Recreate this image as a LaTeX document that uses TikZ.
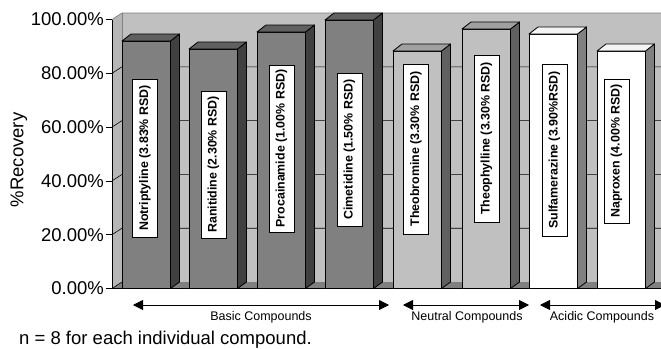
\documentclass[tikz,border=0pt]{standalone}
\usepackage{fontspec}
\setmainfont{Liberation Sans}
\usetikzlibrary{arrows.meta}
\definecolor{wallc}{HTML}{C0C0C0}
\definecolor{floorc}{HTML}{808080}
\definecolor{bfront}{HTML}{808080}
\definecolor{bside}{HTML}{404040}
\definecolor{btop}{HTML}{606060}
\definecolor{nfront}{HTML}{C0C0C0}
\definecolor{nside}{HTML}{606060}
\definecolor{ntop}{HTML}{A0A0A0}
\definecolor{afront}{HTML}{FFFFFF}
\definecolor{aside}{HTML}{808080}
\definecolor{atop}{HTML}{F4F4F4}
\tikzset{
  big/.style={font=\fontsize{18.5}{20}\selectfont, inner sep=0pt},
  small/.style={font=\fontsize{12.5}{14}\selectfont, inner sep=0pt},
  labbox/.style={draw=black, line width=0.7pt, fill=white, rotate=90, inner sep=0pt,
     minimum height=25pt, font=\fontsize{12.4}{14}\selectfont\bfseries},
  barline/.style={draw=black, line width=0.8pt, line join=round},
  grid/.style={draw=black, line width=0.6pt},
  arr/.style={line width=0.8pt, {Triangle[length=10pt,width=10pt]}-{Triangle[length=10pt,width=10pt]}}
}
\begin{document}
\begin{tikzpicture}[x=1pt,y=-1pt]
\useasboundingbox (0,0) rectangle (661,348);
% walls and floor
\fill[wallc] (122,13) rectangle (661,282);
\fill[wallc!95!black] (112,19.5) -- (122,13) -- (122,282) -- (112,288.5) -- cycle;
\fill[floorc] (112,288.5) -- (122,282) -- (661,282) -- (661,288.5) -- cycle;
\draw[gray, line width=0.7pt] (112,19.5) -- (122,13) -- (661,13);
\draw[gray, line width=0.7pt] (122,13) -- (122,282);
% gridlines and ticks
\foreach \v/\t in {0/0.00,20/20.00,40/40.00,60/60.00,80/80.00,100/100.00}{
  \pgfmathsetmacro\yy{288.5-2.69*\v}
  \draw[grid] (106,\yy) -- (112,\yy);
  \node[big, anchor=east] (tick\v) at (104,\yy) {\t\%};
}
\foreach \v in {20,40,60,80}{
  \pgfmathsetmacro\yy{288.5-2.69*\v}
  \draw[grid] (112,\yy) -- (122,\yy-6.5) -- (661,\yy-6.5);
}
\draw[grid] (112,288.5) -- (122,282);
% axes
\draw[black, line width=0.8pt] (112,19.5) -- (112,288.5) -- (661,288.5);
\node[big, rotate=90] (ytitle) at (19,160) {\%Recovery};
% bars
\foreach \xa/\tp/\cx/\la/\lb/\fc/\sc/\tc/\txt in {
  122/41/145/79/237/bfront/bside/btop/Notriptyline (3.83\% RSD),
  189/49/213.5/91/238/bfront/bside/btop/Ranitidine (2.30\% RSD),
  257/32/281.5/65/232/bfront/bside/btop/Procainamide (1.00\% RSD),
  325/20/349.5/73/226/bfront/bside/btop/Cimetidine (1.50\% RSD),
  393/51/416/64/234/nfront/nside/ntop/Theobromine (3.30\% RSD),
  462/29/486.5/55/222/nfront/nside/ntop/Theophylline (3.30\% RSD),
  529/34/554.5/64/236/afront/aside/atop/Sulfamerazine (3.90\%RSD),
  597/51/616.5/79/223/afront/aside/atop/Naproxen (4.00\% RSD)}{
  \pgfmathsetmacro\xb{\xa+48.5}
  \pgfmathsetmacro\lw{\lb-\la}
  \pgfmathsetmacro\lc{(\la+\lb)/2}
  \filldraw[barline, fill=\fc] (\xa,\tp) rectangle (\xb,288.5);
  \filldraw[barline, fill=\sc] (\xb,\tp) -- (\xb+9,\tp-7) -- (\xb+9,282) -- (\xb,288.5) -- cycle;
  \filldraw[barline, fill=\tc] (\xa,\tp) -- (\xa+9,\tp-7) -- (\xb+9,\tp-7) -- (\xb,\tp) -- cycle;
  \node[labbox, minimum width=\lw pt] (lab\xa) at (\cx,\lc) {\txt};
}
% group arrows
\coordinate (b1) at (133,305);
\coordinate (b2) at (389,305);
\coordinate (n1) at (403,305);
\coordinate (n2) at (529,305);
\coordinate (a1) at (540,305);
\coordinate (a2) at (665,305);
\draw[arr] (b1) -- (b2);
\draw[arr] (n1) -- (n2);
\draw[arr] (a1) -- (a2);
\node[small] (gb) at (261,317.5) {Basic Compounds};
\node[small] (gn) at (467,317.5) {Neutral Compounds};
\node[small] (ga) at (602,317.5) {Acidic Compounds};
\node[big, anchor=west] (note) at (19,340) {n = 8 for each individual compound.};
\end{tikzpicture}
\end{document}
